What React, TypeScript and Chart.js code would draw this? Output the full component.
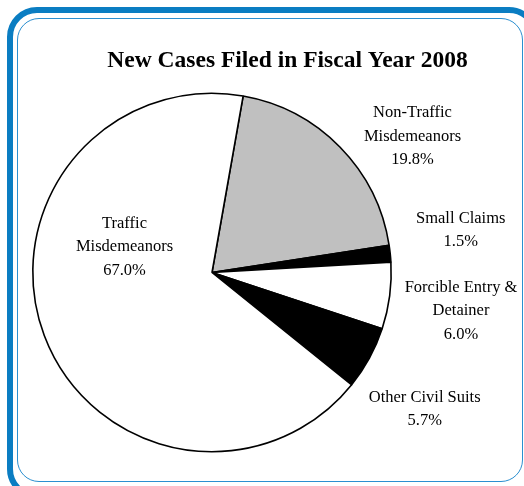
import React, { useEffect, useRef } from "react";
import { Chart, registerables } from "chart.js";

Chart.register(...registerables);

// ---- data ----
const title = "New Cases Filed in Fiscal Year 2008";
const categories = [
  "Non-Traffic Misdemeanors",
  "Small Claims",
  "Forcible Entry & Detainer",
  "Other Civil Suits",
  "Traffic Misdemeanors",
];
const shares = [19.8, 1.5, 6.0, 5.7, 67.0];
const labelLines = [
  ["Non-Traffic", "Misdemeanors"],
  ["Small Claims"],
  ["Forcible Entry &", "Detainer"],
  ["Other Civil Suits"],
  ["Traffic", "Misdemeanors"],
];

// ---- styles / layout ----
const sliceColors = ["#c0c0c0", "#000000", "#ffffff", "#000000", "#ffffff"];
const labelOffsets = [
  [200.5, -155.5],
  [248.7, -49.8],
  [249, 19.2],
  [212.7, 129.2],
  [-87.5, -44.8],
];
const LINE_H = 23.7;
const BLUE = "#0a7dc2";

const labelPlugin = {
  id: "sliceLabels",
  afterDraw(chart: any) {
    const ctx = chart.ctx;
    const arc = chart.getDatasetMeta(0).data[0];
    const cx = arc.x;
    const cy = arc.y;
    ctx.save();
    ctx.fillStyle = "#000";
    ctx.textAlign = "center";
    ctx.textBaseline = "alphabetic";
    ctx.font = 'bold 23.5px "Liberation Serif", serif';
    ctx.fillText(title, 287.5, 67);
    ctx.font = '16.5px "Liberation Serif", serif';
    shares.forEach((v, i) => {
      const lines = [...labelLines[i], v.toFixed(1) + "%"];
      const [ox, oy] = labelOffsets[i];
      lines.forEach((t, k) => {
        ctx.fillText(t, cx + ox, cy + oy + k * LINE_H);
      });
    });
    ctx.restore();
  },
};

function PieChart() {
  const ref = useRef<HTMLCanvasElement | null>(null);
  useEffect(() => {
    if (!ref.current) return;
    const chart = new Chart(ref.current, {
      type: "pie",
      data: {
        labels: categories,
        datasets: [
          {
            data: shares,
            backgroundColor: sliceColors,
            borderColor: "#000000",
            borderWidth: 1.6,
          },
        ],
      },
      options: {
        responsive: false,
        animation: false,
        devicePixelRatio: 1,
        rotation: 10,
        layout: { padding: { left: 32, right: 132, top: 92.5, bottom: 33.5 } },
        plugins: {
          legend: { display: false },
          tooltip: { enabled: false },
          title: { display: false },
        },
      },
      plugins: [labelPlugin],
    });
    return () => chart.destroy();
  }, []);
  return (
    <canvas
      ref={ref}
      width={524}
      height={486}
      style={{ position: "absolute", left: 0, top: 0, width: 524, height: 486 }}
    />
  );
}

export default function App() {
  return (
    <div
      style={{
        position: "fixed",
        left: 0,
        top: 0,
        width: 524,
        height: 486,
        overflow: "hidden",
        background: "#fff",
      }}
    >
      <div
        style={{
          position: "absolute",
          left: 7,
          top: 7,
          width: 532,
          height: 492,
          boxSizing: "border-box",
          border: `6px solid ${BLUE}`,
          borderRadius: 30,
        }}
      />
      <div
        style={{
          position: "absolute",
          left: 17,
          top: 17.5,
          width: 506,
          height: 464,
          boxSizing: "border-box",
          border: "1.5px solid #2b8fd0",
          borderRadius: 22,
        }}
      />
      <PieChart />
    </div>
  );
}
